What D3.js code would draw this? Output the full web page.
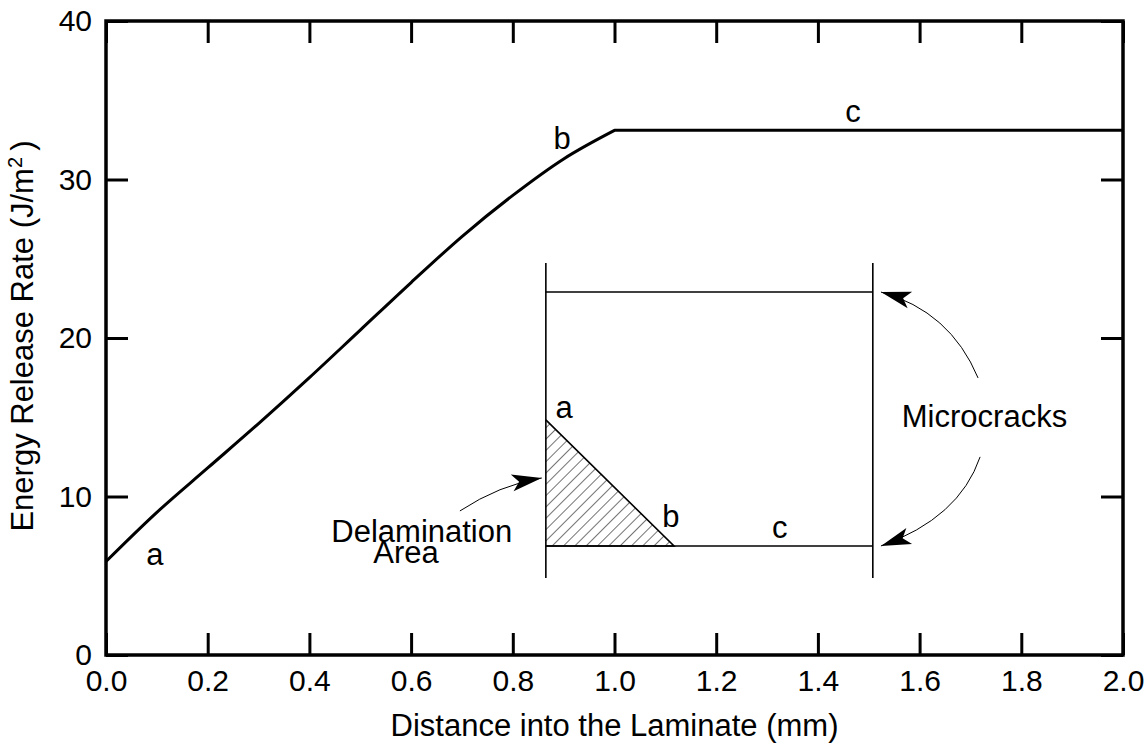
<!DOCTYPE html>
<html>
<head>
<meta charset="utf-8">
<script src="https://cdn.jsdelivr.net/npm/d3@7"></script>
<style>
    body { margin: 0; background: #fff; }
    svg { display: block; font-family: "Liberation Sans", Arial, Helvetica, sans-serif; }
</style>
</head>
<body>
<div id="chart"></div>
<script>
    // Energy release rate along the laminate
    var distance = [0, 0.1, 0.2, 0.3, 0.4, 0.5, 0.6, 0.7, 0.8, 0.9, 1.0, 2.0];
    var energy = [5.9, 9.0, 11.8, 14.6, 17.5, 20.5, 23.5, 26.4, 29.0, 31.3, 33.1, 33.1];

    var xTicks = [0, 0.2, 0.4, 0.6, 0.8, 1.0, 1.2, 1.4, 1.6, 1.8, 2.0];
    var yTicks = [0, 10, 20, 30, 40];

    // Curve point labels
    var curveLabels = [
        { text: 'a', x: 0.096, y: 5.7 },
        { text: 'b', x: 0.897, y: 31.9 },
        { text: 'c', x: 1.469, y: 33.6 }
    ];

    // Inset sketch (drawn in data units)
    var insetX = [0.865, 1.508];
    var insetSpan = [4.86, 24.73];
    var insetLayers = [22.9, 6.88];
    var delamination = [[0.865, 14.83], [1.117, 6.88], [0.865, 6.88]];
    var insetLabels = [
        { text: 'a', x: 0.901, y: 14.95, anchor: 'middle' },
        { text: 'b', x: 1.111, y: 8.08, anchor: 'middle' },
        { text: 'c', x: 1.325, y: 7.38, anchor: 'middle' },
        { text: 'Delamination', x: 0.621, y: 7.1, anchor: 'middle' },
        { text: 'Area', x: 0.59, y: 5.8, anchor: 'middle' },
        { text: 'Microcracks', x: 1.565, y: 14.38, anchor: 'start' }
    ];
    // arrows: [tail, control, tip]
    var arrows = [
        [[0.696, 9.09], [0.773, 10.72], [0.857, 11.17]],
        [[1.715, 17.48], [1.660, 21.70], [1.524, 22.9]],
        [[1.719, 12.5], [1.678, 8.64], [1.524, 6.88]]
    ];

    var width = 1148, height = 744;
    var tickFont = 30, labelFont = 31;

    var svg = d3.select('#chart')
        .append('svg')
        .attr('width', width)
        .attr('height', height);

    var x = d3.scaleLinear().domain([0, 2]).range([106, 1123]);
    var y = d3.scaleLinear().domain([0, 40]).range([655, 21]);

    var defs = svg.append('defs');

    defs.append('pattern')
        .attr('id', 'hatch')
        .attr('patternUnits', 'userSpaceOnUse')
        .attr('width', 8)
        .attr('height', 8)
        .attr('patternTransform', 'rotate(45)')
        .append('line')
        .attr('x1', 0).attr('y1', 0)
        .attr('x2', 0).attr('y2', 8)
        .attr('stroke', '#000')
        .attr('stroke-width', 1.1);

    defs.append('marker')
        .attr('id', 'arrowhead')
        .attr('markerUnits', 'userSpaceOnUse')
        .attr('viewBox', '-1 -10 33 20')
        .attr('markerWidth', 33)
        .attr('markerHeight', 20)
        .attr('refX', 30)
        .attr('refY', 0)
        .attr('orient', 'auto')
        .append('path')
        .attr('d', 'M0,-8.5 L30,0 L0,8.5 L7,0 Z')
        .attr('fill', '#000');

    // Axes with inward ticks on all four sides
    var tickLen = 22;

    var xAxis = svg.append('g')
        .attr('transform', 'translate(0,' + y(0) + ')')
        .call(d3.axisBottom(x).tickValues(xTicks).tickFormat(d3.format('.1f'))
            .tickSizeInner(-tickLen).tickSizeOuter(0).tickPadding(15));

    var xAxisTop = svg.append('g')
        .attr('transform', 'translate(0,' + y(40) + ')')
        .call(d3.axisTop(x).tickValues(xTicks).tickFormat('')
            .tickSizeInner(-tickLen).tickSizeOuter(0));

    var yAxis = svg.append('g')
        .attr('transform', 'translate(' + x(0) + ',0)')
        .call(d3.axisLeft(y).tickValues(yTicks).tickFormat(d3.format('d'))
            .tickSizeInner(-tickLen).tickSizeOuter(0).tickPadding(14));

    var yAxisRight = svg.append('g')
        .attr('transform', 'translate(' + x(2) + ',0)')
        .call(d3.axisRight(y).tickValues(yTicks).tickFormat('')
            .tickSizeInner(-tickLen).tickSizeOuter(0));

    [xAxis, xAxisTop, yAxis, yAxisRight].forEach(function (g) {
        g.select('.domain').remove();
        g.selectAll('.tick line').attr('stroke', '#000').attr('stroke-width', 3);
        g.selectAll('.tick text')
            .attr('fill', '#000')
            .style('font-size', tickFont + 'px')
            .style('font-family', '"Liberation Sans", Arial, Helvetica, sans-serif');
    });

    // Frame
    svg.append('rect')
        .attr('x', x(0))
        .attr('y', y(40))
        .attr('width', x(2) - x(0))
        .attr('height', y(0) - y(40))
        .attr('fill', 'none')
        .attr('stroke', '#000')
        .attr('stroke-width', 3.5);

    // Energy release curve: smooth rise up to the knee, then flat plateau
    var knee = distance.indexOf(1.0);
    var rise = d3.range(0, knee + 1);
    var plateau = d3.range(knee, distance.length);

    var riseLine = d3.line()
        .curve(d3.curveMonotoneX)
        .x(function (i) { return x(distance[i]); })
        .y(function (i) { return y(energy[i]); });
    var flatLine = d3.line()
        .x(function (i) { return x(distance[i]); })
        .y(function (i) { return y(energy[i]); });

    svg.append('path')
        .attr('d', riseLine(rise) + flatLine(plateau).replace(/^M/, 'L'))
        .attr('fill', 'none')
        .attr('stroke', '#000')
        .attr('stroke-width', 3)
        .attr('stroke-linejoin', 'round');

    svg.selectAll('.curve-label')
        .data(curveLabels)
        .enter()
        .append('text')
        .attr('class', 'curve-label')
        .attr('x', function (d) { return x(d.x); })
        .attr('y', function (d) { return y(d.y); })
        .attr('text-anchor', 'middle')
        .style('font-size', labelFont + 'px')
        .text(function (d) { return d.text; });

    // Inset: laminate sketch
    var inset = svg.append('g').attr('class', 'inset');

    inset.append('path')
        .datum(delamination)
        .attr('d', d3.line().x(function (d) { return x(d[0]); }).y(function (d) { return y(d[1]); }))
        .attr('fill', 'url(#hatch)')
        .attr('stroke', '#000')
        .attr('stroke-width', 1.6);

    inset.selectAll('.ply-edge')
        .data(insetX)
        .enter()
        .append('line')
        .attr('class', 'ply-edge')
        .attr('x1', function (d) { return x(d); })
        .attr('x2', function (d) { return x(d); })
        .attr('y1', y(insetSpan[0]))
        .attr('y2', y(insetSpan[1]))
        .attr('stroke', '#000')
        .attr('stroke-width', 1.6);

    inset.selectAll('.crack')
        .data(insetLayers)
        .enter()
        .append('line')
        .attr('class', 'crack')
        .attr('x1', x(insetX[0]))
        .attr('x2', x(insetX[1]))
        .attr('y1', function (d) { return y(d); })
        .attr('y2', function (d) { return y(d); })
        .attr('stroke', '#000')
        .attr('stroke-width', 1.6);

    inset.selectAll('.arrow')
        .data(arrows)
        .enter()
        .append('path')
        .attr('class', 'arrow')
        .attr('d', function (d) {
            var p = d3.path();
            p.moveTo(x(d[0][0]), y(d[0][1]));
            p.quadraticCurveTo(x(d[1][0]), y(d[1][1]), x(d[2][0]), y(d[2][1]));
            return p.toString();
        })
        .attr('fill', 'none')
        .attr('stroke', '#000')
        .attr('stroke-width', 1)
        .attr('marker-end', 'url(#arrowhead)');

    inset.selectAll('.inset-label')
        .data(insetLabels)
        .enter()
        .append('text')
        .attr('class', 'inset-label')
        .attr('x', function (d) { return x(d.x); })
        .attr('y', function (d) { return y(d.y); })
        .attr('text-anchor', function (d) { return d.anchor; })
        .style('font-size', labelFont + 'px')
        .text(function (d) { return d.text; });

    // Axis titles
    svg.append('text')
        .attr('x', (x(0) + x(2)) / 2)
        .attr('y', 736)
        .attr('text-anchor', 'middle')
        .style('font-size', labelFont + 'px')
        .text('Distance into the Laminate (mm)');

    var yTitle = svg.append('text')
        .attr('transform', 'translate(33,' + (y(20) - 2) + ') rotate(-90)')
        .attr('text-anchor', 'middle')
        .style('font-size', labelFont + 'px');
    yTitle.append('tspan').text('Energy Release Rate (J/m');
    yTitle.append('tspan')
        .attr('dy', -11)
        .style('font-size', '20px')
        .text('2');
    yTitle.append('tspan')
        .attr('dy', 11)
        .text('\u2009)');
</script>
</body>
</html>
